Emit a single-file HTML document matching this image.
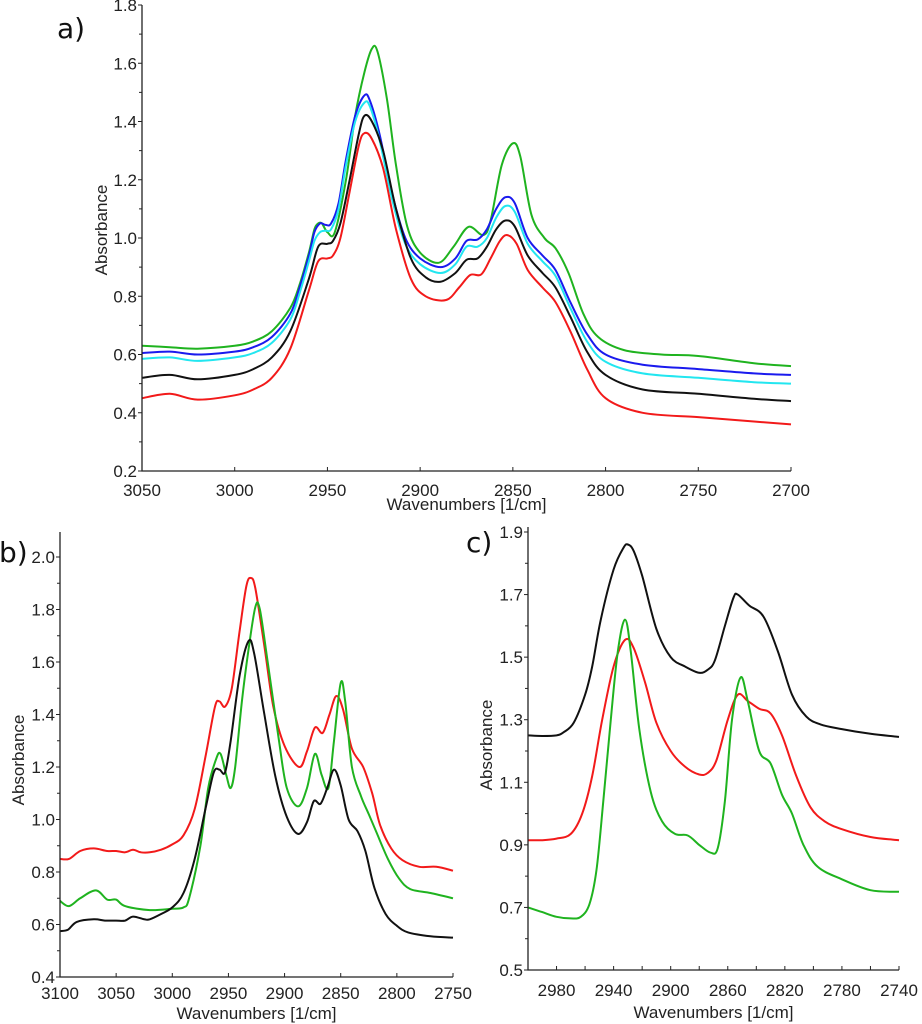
<!DOCTYPE html>
<html><head><meta charset="utf-8">
<style>
html,body{margin:0;padding:0;background:#fff;}
svg{display:block;font-family:"Liberation Sans",Arial,sans-serif;}
</style></head>
<body>
<svg id="chart" width="922" height="1024" viewBox="0 0 922 1024" xmlns="http://www.w3.org/2000/svg"></svg>
<script>
// ---------- Panel a data ----------
const aXTicks = [3050,3000,2950,2900,2850,2800,2750,2700];
const aYTicks = [0.2,0.4,0.6,0.8,1.0,1.2,1.4,1.6,1.8];
const aGreen = [[3050,.63],[3035,.625],[3020,.62],[3000,.63],[2990,.645],[2980,.68],[2970,.76],[2965,.84],[2960,.95],[2957,1.03],[2955,1.05],[2953,1.05],[2950,1.02],[2946,1.02],[2940,1.2],[2935,1.42],[2930,1.57],[2926,1.65],[2923,1.64],[2918,1.48],[2913,1.25],[2907,1.04],[2900,.95],[2890,.915],[2882,.97],[2874,1.038],[2866,1.01],[2862,1.06],[2856,1.25],[2850,1.325],[2846,1.28],[2840,1.08],[2833,1.0],[2827,.965],[2820,.88],[2812,.74],[2804,.66],[2790,.615],[2770,.6],[2750,.595],[2720,.57],[2700,.56]];
const aBlue = [[3050,.605],[3035,.61],[3020,.60],[3000,.61],[2990,.625],[2980,.66],[2970,.74],[2965,.83],[2960,.94],[2957,1.02],[2954,1.05],[2951,1.045],[2948,1.05],[2944,1.12],[2940,1.27],[2935,1.42],[2930,1.49],[2927,1.47],[2922,1.36],[2915,1.15],[2908,1.0],[2900,.93],[2889,.9],[2881,.93],[2875,.99],[2869,.995],[2864,1.03],[2859,1.1],[2854,1.14],[2849,1.12],[2842,1.0],[2834,.94],[2827,.89],[2819,.78],[2810,.67],[2800,.6],[2780,.565],[2750,.55],[2720,.535],[2700,.53]];
const aCyan = [[3050,.585],[3035,.59],[3020,.578],[3000,.59],[2990,.605],[2980,.64],[2970,.72],[2965,.81],[2960,.92],[2957,.99],[2954,1.02],[2951,1.025],[2948,1.03],[2944,1.1],[2940,1.25],[2935,1.40],[2930,1.465],[2927,1.45],[2922,1.34],[2915,1.13],[2908,.98],[2900,.91],[2889,.88],[2881,.91],[2875,.97],[2869,.97],[2864,1.0],[2859,1.07],[2854,1.11],[2849,1.09],[2842,.98],[2834,.92],[2827,.87],[2819,.76],[2810,.645],[2800,.575],[2780,.535],[2750,.52],[2720,.505],[2700,.50]];
const aBlack = [[3050,.52],[3035,.53],[3020,.515],[3000,.53],[2990,.55],[2980,.59],[2970,.68],[2960,.86],[2955,.97],[2950,.98],[2947,.99],[2943,1.05],[2938,1.2],[2933,1.36],[2930,1.42],[2926,1.4],[2920,1.3],[2913,1.1],[2905,.93],[2897,.865],[2889,.85],[2881,.88],[2875,.925],[2869,.93],[2864,.97],[2859,1.03],[2854,1.06],[2849,1.04],[2842,.94],[2834,.88],[2827,.83],[2819,.73],[2810,.61],[2800,.53],[2780,.48],[2750,.465],[2720,.448],[2700,.44]];
const aRed = [[3050,.45],[3035,.465],[3020,.445],[3000,.46],[2990,.48],[2980,.52],[2970,.62],[2960,.82],[2955,.92],[2950,.93],[2947,.94],[2943,1.0],[2938,1.16],[2933,1.32],[2930,1.36],[2926,1.34],[2920,1.24],[2913,1.03],[2905,.86],[2897,.8],[2886,.787],[2879,.83],[2873,.873],[2867,.875],[2862,.93],[2857,.99],[2853,1.01],[2848,.98],[2842,.89],[2834,.83],[2827,.78],[2819,.68],[2810,.55],[2800,.45],[2780,.40],[2750,.385],[2720,.37],[2700,.36]];
// ---------- Panel b data ----------
const bXTicks = [3100,3050,3000,2950,2900,2850,2800,2750];
const bYTicks = [0.4,0.6,0.8,1.0,1.2,1.4,1.6,1.8,2.0];
const bRed = [[3100,.85],[3092,.85],[3082,.88],[3070,.89],[3058,.88],[3050,.88],[3042,.875],[3035,.885],[3028,.875],[3020,.875],[3010,.885],[3000,.905],[2990,.94],[2980,1.04],[2970,1.25],[2962,1.43],[2958,1.45],[2953,1.43],[2947,1.5],[2940,1.72],[2934,1.89],[2930,1.92],[2926,1.88],[2918,1.66],[2910,1.43],[2900,1.28],[2887,1.2],[2880,1.26],[2873,1.35],[2866,1.33],[2860,1.4],[2854,1.47],[2848,1.42],[2840,1.27],[2830,1.2],[2822,1.1],[2815,.98],[2805,.89],[2795,.845],[2780,.82],[2765,.82],[2750,.805]];
const bBlack = [[3100,.575],[3093,.58],[3085,.61],[3070,.62],[3060,.615],[3050,.615],[3042,.615],[3035,.63],[3025,.62],[3020,.62],[3010,.64],[3000,.665],[2990,.72],[2980,.85],[2970,1.05],[2963,1.18],[2958,1.19],[2953,1.18],[2948,1.3],[2940,1.55],[2932,1.68],[2927,1.63],[2918,1.4],[2908,1.16],[2898,1.01],[2888,.945],[2880,.99],[2874,1.07],[2868,1.06],[2862,1.12],[2856,1.19],[2850,1.13],[2843,1.0],[2835,.955],[2828,.88],[2820,.74],[2810,.64],[2800,.595],[2790,.57],[2770,.555],[2750,.55]];
const bGreen = [[3100,.69],[3092,.67],[3082,.7],[3068,.73],[3058,.695],[3050,.695],[3042,.67],[3020,.655],[3000,.66],[2990,.665],[2985,.7],[2975,.9],[2968,1.12],[2961,1.23],[2957,1.25],[2952,1.17],[2948,1.12],[2944,1.2],[2938,1.45],[2932,1.65],[2926,1.81],[2922,1.8],[2915,1.6],[2905,1.3],[2898,1.12],[2888,1.05],[2880,1.12],[2873,1.25],[2867,1.17],[2861,1.12],[2856,1.3],[2850,1.52],[2846,1.45],[2840,1.2],[2832,1.09],[2825,1.02],[2818,.95],[2808,.85],[2798,.775],[2788,.735],[2770,.72],[2750,.7]];
// ---------- Panel c data ----------
const cXTicks = [2980,2940,2900,2860,2820,2780,2740];
const cXMinor = [2960,2920,2880,2840,2800,2760];
const cYTicks = [0.5,0.7,0.9,1.1,1.3,1.5,1.7,1.9];
const cBlack = [[3000,1.25],[2990,1.248],[2980,1.25],[2975,1.26],[2968,1.29],[2960,1.38],[2955,1.47],[2949,1.62],[2940,1.78],[2933,1.85],[2930,1.86],[2926,1.84],[2920,1.76],[2910,1.59],[2900,1.5],[2890,1.47],[2880,1.45],[2874,1.46],[2869,1.49],[2862,1.6],[2856,1.69],[2853,1.70],[2845,1.665],[2835,1.63],[2825,1.52],[2815,1.38],[2805,1.31],[2795,1.285],[2780,1.27],[2760,1.255],[2740,1.245]];
const cRed = [[3000,.915],[2990,.915],[2980,.92],[2970,.935],[2962,1.0],[2955,1.12],[2948,1.3],[2940,1.47],[2932,1.555],[2926,1.53],[2918,1.42],[2910,1.29],[2900,1.2],[2890,1.15],[2880,1.125],[2874,1.13],[2868,1.17],[2860,1.3],[2853,1.38],[2846,1.36],[2838,1.335],[2830,1.32],[2822,1.25],[2812,1.12],[2802,1.02],[2792,.975],[2780,.95],[2760,.925],[2740,.915]];
const cGreen = [[3000,.70],[2990,.685],[2980,.67],[2970,.665],[2963,.67],[2957,.71],[2952,.82],[2947,1.05],[2942,1.3],[2937,1.52],[2932,1.62],[2928,1.52],[2922,1.27],[2914,1.07],[2906,.975],[2897,.935],[2888,.93],[2880,.9],[2872,.875],[2867,.89],[2862,1.04],[2857,1.3],[2851,1.435],[2846,1.36],[2838,1.2],[2830,1.16],[2822,1.06],[2815,1.0],[2807,.9],[2797,.83],[2780,.79],[2760,.755],[2740,.75]];

const SVGNS = "http://www.w3.org/2000/svg";
const svg = document.getElementById('chart');
function mk(tag, attrs, parent){
  const e = document.createElementNS(SVGNS, tag);
  for (const k in attrs) e.setAttribute(k, attrs[k]);
  (parent||svg).appendChild(e);
  return e;
}
function smoothPath(pts){
  let d = 'M' + pts[0][0].toFixed(1) + ',' + pts[0][1].toFixed(1);
  for (let i=0;i<pts.length-1;i++){
    const p0 = pts[i-1]||pts[i], p1=pts[i], p2=pts[i+1], p3=pts[i+2]||p2;
    const c1x=p1[0]+(p2[0]-p0[0])/6, c1y=p1[1]+(p2[1]-p0[1])/6;
    const c2x=p2[0]-(p3[0]-p1[0])/6, c2y=p2[1]-(p3[1]-p1[1])/6;
    d += 'C'+c1x.toFixed(1)+','+c1y.toFixed(1)+' '+c2x.toFixed(1)+','+c2y.toFixed(1)+' '+p2[0].toFixed(1)+','+p2[1].toFixed(1);
  }
  return d;
}
function panel(cfg){
  const g = mk('g', {});
  
  
  const sx = v => cfg.x0 + (cfg.xmax - v)/(cfg.xmax - cfg.xmin)*(cfg.x1 - cfg.x0);
  const sy = v => cfg.yb - (v - cfg.ymin)/(cfg.ymax - cfg.ymin)*(cfg.yb - cfg.yt);
  cfg.series.forEach(s=>{
    const p = mk('path', {d: smoothPath(s.data.map(q=>[sx(q[0]), sy(q[1])])), fill:'none', stroke:s.color, 'stroke-width':2, 'stroke-linejoin':'round'}, g);
    
    
  });
  const ax = mk('path', {d:'M'+cfg.x0+','+cfg.top+'V'+cfg.yb+'H'+cfg.x1, fill:'none', stroke:'#222', 'stroke-width':1.3}, g);
  
  
  const step = cfg.yTicks[1]-cfg.yTicks[0];
  for (let i=0;i<cfg.yTicks.length;i++){
    const v = cfg.yTicks[i], y = sy(v);
    mk('line', {x1:cfg.x0-4, x2:cfg.x0, y1:y, y2:y, stroke:'#222','stroke-width':1}, g);
    if (i<cfg.yTicks.length-1){
      const ym = sy(v+step/2);
      mk('line', {x1:cfg.x0-3, x2:cfg.x0, y1:ym, y2:ym, stroke:'#222','stroke-width':1}, g);
    }
    const t = mk('text', {x:cfg.x0-5, y:y+6, 'text-anchor':'end', 'font-size':17, fill:'#222'}, g);
    t.textContent = v.toFixed(1);
    
    
  }
  cfg.xTicks.forEach(v=>{
    const x = sx(v);
    mk('line', {x1:x, x2:x, y1:cfg.yb, y2:cfg.yb-4, stroke:'#222','stroke-width':1}, g);
    const t = mk('text', {x:x, y:cfg.yb+cfg.xLabOff, 'text-anchor':'middle', 'font-size':17, fill:'#222'}, g);
    t.textContent = v;
    
    
  });
  (cfg.xMinor||[]).forEach(v=>{
    const x = sx(v);
    mk('line', {x1:x, x2:x, y1:cfg.yb, y2:cfg.yb-4, stroke:'#222','stroke-width':1}, g);
  });
  const xt = mk('text', {x:(cfg.x0+cfg.x1)/2, y:cfg.xTitleY, 'text-anchor':'middle', 'font-size':17, fill:'#222'}, g);
  xt.textContent = 'Wavenumbers [1/cm]';
  
  
  const yt = mk('text', {x:0, y:0, 'text-anchor':'middle', 'font-size':17, fill:'#222', transform:'translate('+cfg.yTitleX+','+cfg.yTitleY+') rotate(-90)'}, g);
  yt.textContent = 'Absorbance';
  
  
  const lab = mk('text', {x:cfg.labX, y:cfg.labY, 'font-size':28, fill:'#111', 'font-family':'"DejaVu Sans", sans-serif'}, g);
  lab.textContent = cfg.label;
  
  
}
panel({name:'panel-a', label:'a)', labX:57, labY:38, x0:142, x1:791, xmin:2700, xmax:3050, yt:5, yb:471, top:5, ymin:0.2, ymax:1.8,
  xTicks:aXTicks, yTicks:aYTicks, xLabOff:25, xTitleY:510, yTitleX:107, yTitleY:230,
  series:[{name:'series-green',color:'#1fb31f',data:aGreen},{name:'series-blue',color:'#1a1aee',data:aBlue},{name:'series-cyan',color:'#22e6f0',data:aCyan},{name:'series-black',color:'#111',data:aBlack},{name:'series-red',color:'#f21a1a',data:aRed}]});
panel({name:'panel-b', label:'b)', labX:-1, labY:562, x0:60, x1:453, xmin:2750, xmax:3100, yt:557, yb:977, top:532, ymin:0.4, ymax:2.0,
  xTicks:bXTicks, yTicks:bYTicks, xLabOff:22, xTitleY:1019, yTitleX:24, yTitleY:760,
  series:[{name:'series-red',color:'#f21a1a',data:bRed},{name:'series-green',color:'#1fb31f',data:bGreen},{name:'series-black',color:'#111',data:bBlack}]});
panel({name:'panel-c', label:'c)', labX:466, labY:552, x0:528, x1:899, xmin:2740, xmax:3000, yt:532, yb:970, top:527, ymin:0.5, ymax:1.9,
  xTicks:cXTicks, xMinor:cXMinor, yTicks:cYTicks, xLabOff:26, xTitleY:1018, yTitleX:492, yTitleY:745,
  series:[{name:'series-black',color:'#111',data:cBlack},{name:'series-red',color:'#f21a1a',data:cRed},{name:'series-green',color:'#1fb31f',data:cGreen}]});
</script>
</body></html>
